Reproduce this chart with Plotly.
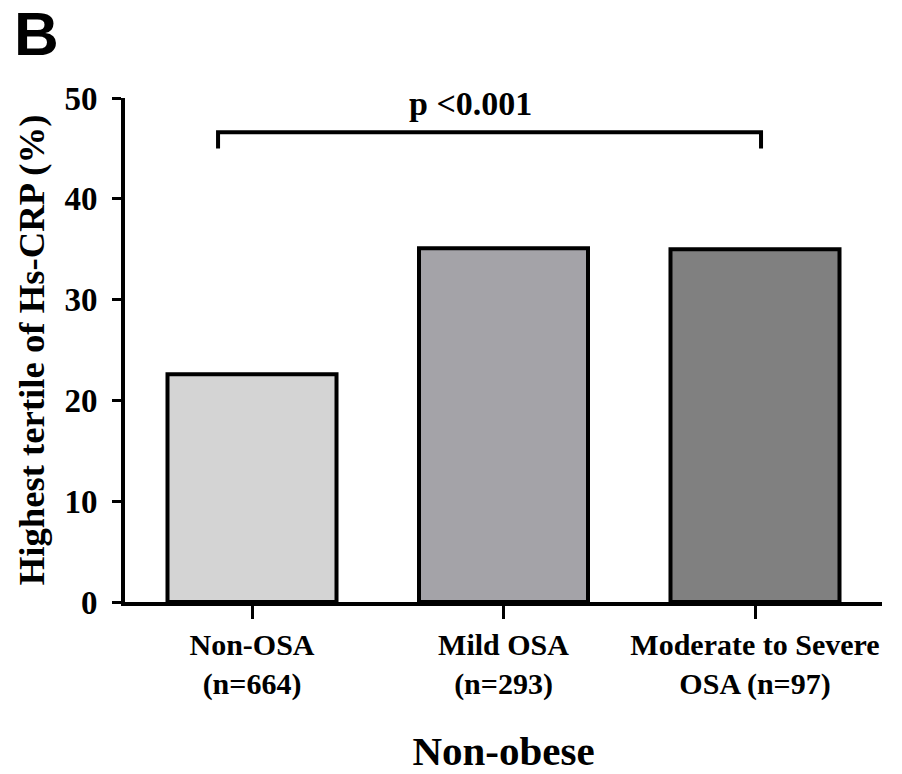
import plotly.graph_objects as go

categories = ["Non-OSA<br>(n=664)", "Mild OSA<br>(n=293)", "Moderate to Severe<br>OSA (n=97)"]
values = [22.6, 35.1, 35.0]
colors = ["#d4d4d4", "#a4a3a8", "#808080"]
y_ticks = [0, 10, 20, 30, 40, 50]
p_text = "p <0.001"
bracket_x = [-0.135, 2.024]
bracket_y = [45.0, 46.6]

x_pos = list(range(len(categories)))
FONT = "Liberation Serif"

fig = go.Figure()
fig.add_trace(go.Bar(
    x=x_pos, y=values, width=0.672,
    marker=dict(color=colors, line=dict(color="black", width=4)),
))

# significance bracket
fig.add_trace(go.Scatter(
    x=[bracket_x[0], bracket_x[0], bracket_x[1], bracket_x[1]],
    y=[bracket_y[0], bracket_y[1], bracket_y[1], bracket_y[0]],
    mode="lines", line=dict(color="black", width=4), hoverinfo="skip",
))
fig.add_annotation(x=0.87, y=bracket_y[1], yshift=8, text="<b>" + p_text + "</b>",
                   showarrow=False, yanchor="bottom",
                   font=dict(family=FONT, size=34, color="black"))

fig.add_annotation(xref="paper", yref="paper", x=-0.149, y=1.2, xanchor="left", yanchor="top",
                   text="<b>B</b>", showarrow=False,
                   font=dict(family="Liberation Sans", size=62, color="black"))

fig.update_layout(
    width=902, height=774,
    margin=dict(l=125, r=20, t=98, b=172),
    paper_bgcolor="white", plot_bgcolor="white",
    showlegend=False,
    font=dict(family=FONT, color="black"),
    xaxis=dict(
        range=[-0.505, 2.505], tickvals=x_pos,
        ticktext=["<b>" + c + "</b>" for c in categories],
        tickfont=dict(family=FONT, size=30, color="black"),
        showline=True, linecolor="black", linewidth=4,
        ticks="outside", ticklen=13, tickwidth=3, tickcolor="black",
        showgrid=False, zeroline=False, automargin=False,
        title=dict(text="<b>Non-obese</b>", font=dict(family=FONT, size=41, color="black"), standoff=40),
    ),
    yaxis=dict(
        range=[0, 50], tickvals=y_ticks,
        tickfont=dict(family=FONT, size=33, color="black", weight="bold"),
        ticklabelstandoff=8,
        showline=True, linecolor="black", linewidth=4,
        ticks="outside", ticklen=9, tickwidth=3, tickcolor="black",
        showgrid=False, zeroline=False, automargin=False,
        title=dict(text="<b>Highest tertile of Hs-CRP (%)</b>", font=dict(family=FONT, size=36.7, color="black"), standoff=10),
    ),
)

fig.write_html("out.html", config={"displayModeBar": False},
               post_script="document.body.style.margin='0';document.body.style.overflow='hidden';")
